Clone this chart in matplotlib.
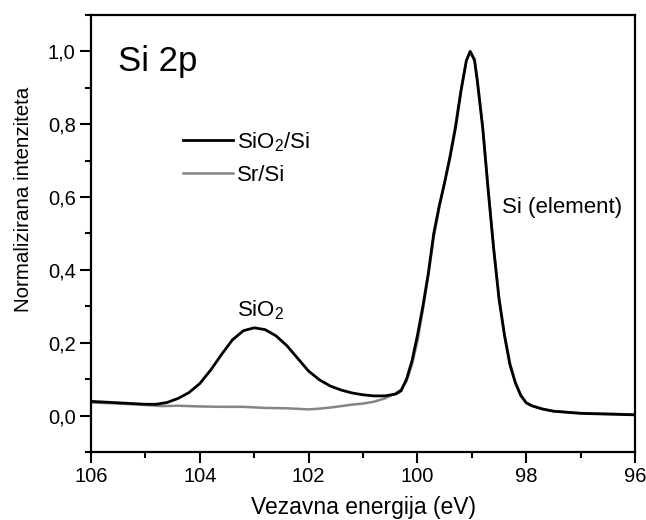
import matplotlib
matplotlib.use("Agg")
import matplotlib.pyplot as plt
from matplotlib.ticker import MultipleLocator, FuncFormatter

plt.rcParams['font.family'] = ['Liberation Sans', 'DejaVu Sans']
plt.rcParams['mathtext.fontset'] = 'custom'
plt.rcParams['mathtext.rm'] = 'Liberation Sans'
plt.rcParams['mathtext.it'] = 'Liberation Sans:italic'
plt.rcParams['mathtext.bf'] = 'Liberation Sans:bold'

# Binding energy (eV) and normalised intensity
e_sio2 = [106.0, 105.5, 105.0, 104.8, 104.6, 104.4, 104.2, 104.0, 103.8, 103.6,
          103.4, 103.2, 103.0, 102.8, 102.6, 102.4, 102.2, 102.0, 101.8, 101.6,
          101.4, 101.2, 101.0, 100.8, 100.6, 100.4, 100.3, 100.2, 100.1, 100.0,
          99.9, 99.8, 99.7, 99.6, 99.5, 99.4, 99.3, 99.2, 99.1, 99.03,
          98.95, 98.9, 98.8, 98.7, 98.6, 98.5, 98.4, 98.3, 98.2, 98.1,
          98.0, 97.9, 97.7, 97.5, 97.0, 96.5, 96.0]
i_sio2 = [0.039, 0.035, 0.031, 0.031, 0.036, 0.047, 0.063, 0.088, 0.125, 0.168,
          0.208, 0.233, 0.241, 0.236, 0.219, 0.192, 0.157, 0.122, 0.098, 0.081,
          0.070, 0.062, 0.057, 0.054, 0.054, 0.059, 0.068, 0.100, 0.150, 0.220,
          0.300, 0.390, 0.500, 0.575, 0.640, 0.710, 0.790, 0.890, 0.975, 1.000,
          0.975, 0.920, 0.790, 0.620, 0.460, 0.320, 0.220, 0.140, 0.090, 0.055,
          0.035, 0.027, 0.018, 0.012, 0.006, 0.004, 0.002]

e_sr = [106.0, 105.5, 105.0, 104.7, 104.4, 104.0, 103.6, 103.2, 102.8, 102.4,
        102.0, 101.8, 101.6, 101.4, 101.2, 101.0, 100.8, 100.6, 100.4, 100.3,
        100.2, 100.1, 100.0, 99.9, 99.8, 99.7, 99.6, 99.5, 99.4, 99.3,
        99.2, 99.1, 99.03, 98.95, 98.9, 98.8, 98.7, 98.6, 98.5, 98.4,
        98.3, 98.2, 98.1, 98.0, 97.9, 97.7, 97.5, 97.0, 96.5, 96.0]
i_sr = [0.036, 0.033, 0.029, 0.026, 0.027, 0.025, 0.024, 0.024, 0.021, 0.020,
        0.017, 0.019, 0.022, 0.026, 0.030, 0.033, 0.038, 0.047, 0.061, 0.072,
        0.095, 0.140, 0.205, 0.290, 0.385, 0.490, 0.570, 0.640, 0.715, 0.800,
        0.895, 0.975, 1.000, 0.980, 0.925, 0.795, 0.625, 0.465, 0.325, 0.225,
        0.145, 0.092, 0.057, 0.036, 0.027, 0.018, 0.012, 0.007, 0.005, 0.003]

x_ticks = [106, 104, 102, 100, 98, 96]
y_ticks = [0.0, 0.2, 0.4, 0.6, 0.8, 1.0]

fig = plt.figure(figsize=(6.46, 5.20), dpi=100)
ax = fig.add_axes([0.1409, 0.1308, 0.983 - 0.1409, 0.9712 - 0.1308])

ax.plot(e_sio2, i_sio2, color='black', lw=2.0, label='SiO$_2$/Si', zorder=3)
ax.plot(e_sr, i_sr, color='#858585', lw=1.8, label='Sr/Si', zorder=2)

ax.set_xlim(106, 96)
ax.set_ylim(-0.1, 1.1)
ax.set_xticks(x_ticks)
ax.set_yticks(y_ticks)
ax.xaxis.set_minor_locator(MultipleLocator(1))
ax.yaxis.set_minor_locator(MultipleLocator(0.1))
ax.yaxis.set_major_formatter(FuncFormatter(lambda v, p: f"{v:.1f}".replace('.', ',')))
ax.tick_params(axis='both', which='major', direction='out', length=8, width=1.5,
               labelsize=14.5, colors='black', pad=3)
ax.tick_params(axis='both', which='minor', direction='out', length=4, width=1.5)
for s in ax.spines.values():
    s.set_linewidth(1.6)

ax.set_xlabel('Vezavna energija (eV)', fontsize=16.5, labelpad=7)
ax.set_ylabel('Normalizirana intenziteta', fontsize=14.8)
ax.yaxis.set_label_coords(-0.107, 0.579)

ax.text(0.05, 0.893, 'Si 2p', transform=ax.transAxes, fontsize=25,
        va='center', ha='left')
ax.text(102.88, 0.29, 'SiO$_2$', fontsize=16, ha='center', va='center')
ax.text(98.44, 0.57, 'Si (element)', fontsize=16, ha='left', va='center')

leg = ax.legend(loc='upper left', bbox_to_anchor=(0.169, 0.737), frameon=False,
                fontsize=16, handlelength=2.27, handletextpad=0.18,
                labelspacing=0.5, borderpad=0.0, borderaxespad=0.0)

fig.savefig('out.png', dpi=100)
